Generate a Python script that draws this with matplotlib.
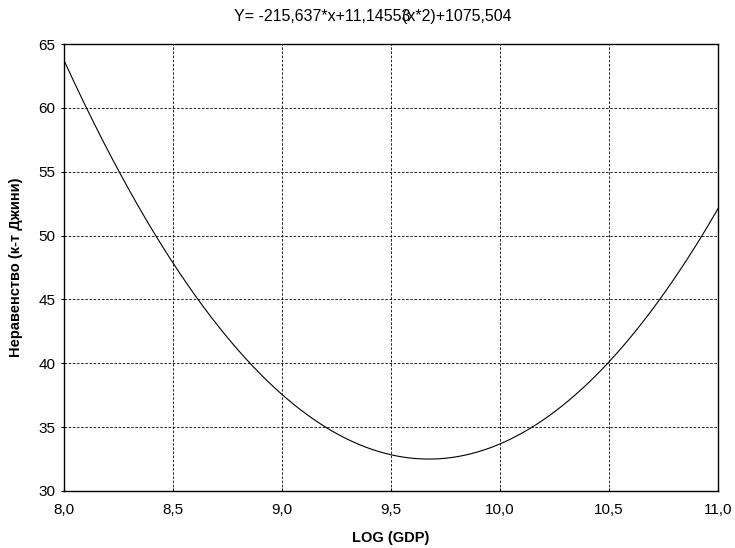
import numpy as np
import matplotlib
matplotlib.use("Agg")
import matplotlib.pyplot as plt
from matplotlib.ticker import FuncFormatter

# Fitted quadratic shown in the chart title: Y = a*x + b*x^2 + c
coef_a = -215.637
coef_b = 11.14553
coef_c = 1075.504
x_range = [8.0, 11.0]
y_range = [30, 65]
x_ticks = [8.0, 8.5, 9.0, 9.5, 10.0, 10.5, 11.0]
y_ticks = [30, 35, 40, 45, 50, 55, 60, 65]

plt.rcParams['font.family'] = ['Liberation Sans', 'DejaVu Sans']

fig = plt.figure(figsize=(7.35, 5.48), dpi=100)
ax = fig.add_axes([64/735, 1-491/548, (718-64)/735, (491-44)/548])

xs = np.linspace(x_range[0], x_range[1], 400)
ys = coef_a*xs + coef_b*xs**2 + coef_c
ax.plot(xs, ys, color='black', lw=0.8)

ax.set_xlim(*x_range)
ax.set_ylim(*y_range)
ax.set_xticks(x_ticks)
ax.set_yticks(y_ticks)
ax.xaxis.set_major_formatter(FuncFormatter(lambda v, p: f"{v:.1f}".replace('.', ',')))
ax.yaxis.set_major_formatter(FuncFormatter(lambda v, p: f"{int(v)}"))
ax.tick_params(axis='both', labelsize=11, length=2, width=0.8, color='black')
ax.tick_params(axis='x', direction='in', pad=9)
ax.tick_params(axis='y', direction='out', pad=4)
ax.grid(True, color='black', linestyle=(0, (3, 2)), lw=0.6)
for s in ax.spines.values():
    s.set_linewidth(1.0)
    s.set_color('black')

ax.set_xlabel('LOG (GDP)', fontsize=10.5, fontweight='bold', labelpad=10)
ax.set_ylabel('Неравенство (к-т Джини)', fontsize=10.5, fontweight='bold', labelpad=11)

# Title with overlapping parts as in the original
fs_t = 11.5
t1 = fig.text(0.0, 0.0, 'Y= -215,637*x+11,14553', fontsize=fs_t)
fig.canvas.draw()
r = fig.canvas.get_renderer()
w1 = t1.get_window_extent(r).width
t2tmp = fig.text(0, 0, '3', fontsize=fs_t)
w3 = t2tmp.get_window_extent(r).width
t2tmp.remove()
t2 = fig.text(0, 0, '(x*2)+1075,504', fontsize=fs_t)
w2 = t2.get_window_extent(r).width
total = w1 - w3 + w2
x0 = 373 - total/2
ybase = 548 - 21
t1.set_position((x0/735, ybase/548))
t2.set_position(((x0 + w1 - w3)/735, ybase/548))

fig.savefig('out.png', dpi=100)
